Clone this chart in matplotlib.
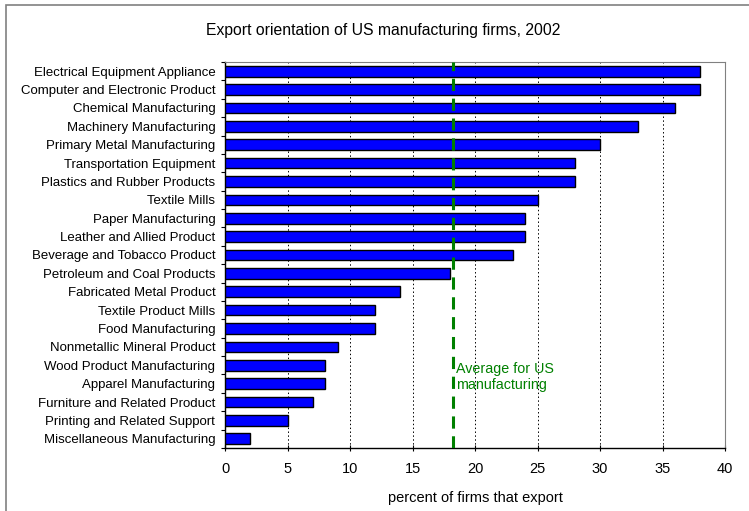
import matplotlib
matplotlib.use("Agg")
import matplotlib.pyplot as plt
from matplotlib.patches import Rectangle
import numpy as np

plt.rcParams['font.family'] = ['Liberation Sans', 'DejaVu Sans']

industries = [
    "Electrical Equipment Appliance",
    "Computer and Electronic Product",
    "Chemical Manufacturing",
    "Machinery Manufacturing",
    "Primary Metal Manufacturing",
    "Transportation Equipment",
    "Plastics and Rubber Products",
    "Textile Mills",
    "Paper Manufacturing",
    "Leather and Allied Product",
    "Beverage and Tobacco Product",
    "Petroleum and Coal Products",
    "Fabricated Metal Product",
    "Textile Product Mills",
    "Food Manufacturing",
    "Nonmetallic Mineral Product",
    "Wood Product Manufacturing",
    "Apparel Manufacturing",
    "Furniture and Related Product",
    "Printing and Related Support",
    "Miscellaneous Manufacturing",
]
pct_export = [38, 38, 36, 33, 30, 28, 28, 25, 24, 24, 23, 18, 14, 12, 12, 9, 8, 8, 7, 5, 2]
us_average = 18.2
x_ticks = [0, 5, 10, 15, 20, 25, 30, 35, 40]

fig = plt.figure(figsize=(7.49, 5.11), dpi=100)
W, H = 749, 511

# outer chart border (Excel style)
fig.patches.append(Rectangle((6 / W, -0.01), 1.0, 1 - 5 / H + 0.01,
                             transform=fig.transFigure, fill=False,
                             edgecolor="#808080", linewidth=1.2))

ax = fig.add_axes([225 / W, 1 - 448 / H, 500 / W, 386 / H])

y = np.arange(len(industries))
ax.barh(y, pct_export, height=0.58, color="#0000FF", edgecolor="black",
        linewidth=1.0, zorder=3)

ax.set_xlim(0, 40)
ax.set_ylim(len(industries) - 0.5, -0.5)

ax.set_xticks(x_ticks)
ax.set_xticklabels([str(t) for t in x_ticks], fontsize=10.5)
ax.set_yticks(y)
ax.set_yticklabels(industries, fontsize=9.5)
ax.tick_params(axis="y", length=0, pad=7)
ax.set_yticks(np.arange(len(industries) + 1) - 0.5, minor=True)
ax.tick_params(axis="y", which="minor", length=3, direction="out", width=0.8)
ax.tick_params(axis="x", length=4, direction="inout", width=0.8, pad=8)

ax.grid(axis="x", color="black", linestyle=(0, (1.5, 2.5)), linewidth=0.7, zorder=0)

for side in ["top", "right"]:
    ax.spines[side].set_color("#808080")
for side in ["left", "bottom"]:
    ax.spines[side].set_color("black")
    ax.spines[side].set_linewidth(1.0)

ax.axvline(us_average, color="#008000", linestyle=(0, (4, 2.5)), linewidth=2.2, zorder=4)
ax.text(us_average + 0.25, 15.8, "Average for US\nmanufacturing", color="#008000",
        fontsize=10.3, va="top", ha="left", linespacing=1.2, zorder=5)

ax.set_xlabel("percent of firms that export", fontsize=10.5, labelpad=11)

fig.text(383 / W, 1 - 30 / H, "Export orientation of US manufacturing firms, 2002",
         ha="center", va="center", fontsize=11.3)

fig.savefig("out.png", dpi=100)
